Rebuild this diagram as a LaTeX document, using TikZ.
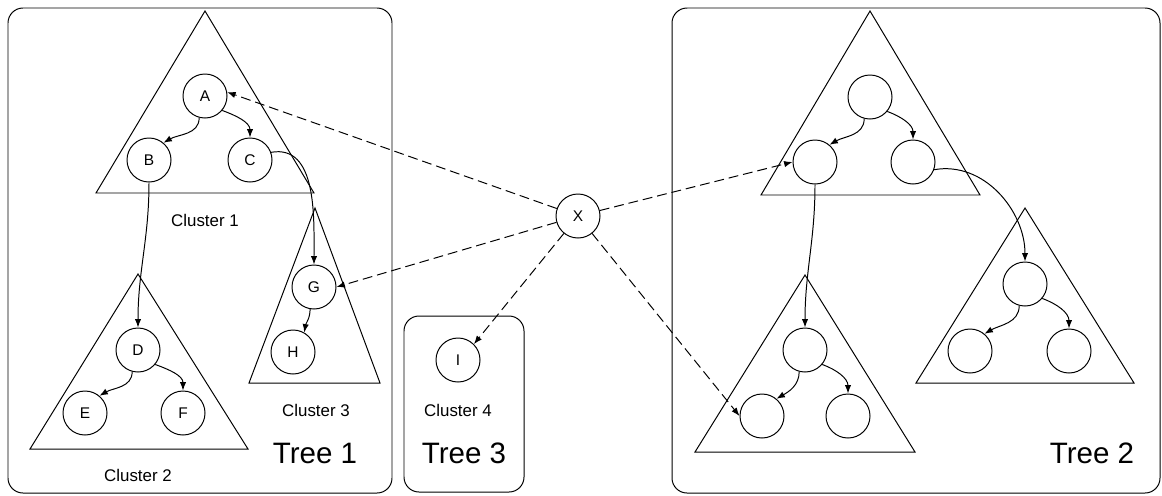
\documentclass[tikz,border=0pt]{standalone}
\usepackage{fontspec}
\setmainfont{Liberation Sans}
\usetikzlibrary{arrows.meta}

\tikzset{
  vert/.style={draw, circle, minimum size=1.1cm, inner sep=0pt, font=\fontsize{11}{13}\selectfont},
  edge/.style={-{Latex[length=6pt,width=4.5pt]}},
  link/.style={edge, dash pattern=on 7pt off 3.5pt},
  lbl/.style={font=\fontsize{12}{14}\selectfont},
  big/.style={font=\fontsize{21}{25}\selectfont}
}

\begin{document}
\begin{tikzpicture}[x=0.025cm,y=-0.025cm,line width=0.7pt]
\useasboundingbox (0,0) rectangle (1162,495);

% tree boxes
\draw[rounded corners=0.375cm] (8,8) rectangle (392,493);
\draw[rounded corners=0.375cm] (404,316) rectangle (524,492);
\draw[rounded corners=0.375cm] (672,8) rectangle (1160,493);

% cluster triangles
\draw (205,11) -- (314,193) -- (96,193) -- cycle;
\draw (315,208) -- (380,383) -- (249,383) -- cycle;
\draw (138,274) -- (248,449) -- (30,449) -- cycle;
\draw (870,11) -- (980,195) -- (761,195) -- cycle;
\draw (805,275) -- (915,452) -- (695,452) -- cycle;
\draw (1025,208) -- (1134,383) -- (916,383) -- cycle;

% tree 1
\node[vert] (A) at (205,96) {A};
\node[vert] (B) at (149,160) {B};
\node[vert] (C) at (250,160) {C};
\node[vert] (D) at (138,350) {D};
\node[vert] (E) at (85,413) {E};
\node[vert] (F) at (183,413) {F};
\node[vert] (G) at (314,287) {G};
\node[vert] (H) at (293,352) {H};

% tree 3
\node[vert] (I) at (458,360) {I};

% tree 2
\node[vert] (P) at (870,97) {};
\node[vert] (Q) at (815,162) {};
\node[vert] (R) at (913,162) {};
\node[vert] (S) at (805,350) {};
\node[vert] (S1) at (762,416) {};
\node[vert] (S2) at (848,416) {};
\node[vert] (T) at (1025,284) {};
\node[vert] (T1) at (970,351) {};
\node[vert] (T2) at (1069,351) {};

\node[vert] (X) at (578,216) {X};

\node[lbl] (c1) at (205,220) {Cluster 1};
\node[lbl] (c2) at (138,475) {Cluster 2};
\node[lbl] (c3) at (316,410) {Cluster 3};
\node[lbl] (c4) at (458,410) {Cluster 4};
\node[big] (t1) at (315,453) {Tree 1};
\node[big] (t3) at (464,453) {Tree 3};
\node[big] (t2) at (1092,453) {Tree 2};

% solid edges
\draw[edge] (A.255) to[out=-90,in=30] (B.50);
\draw[edge] (A.-40) to[out=-20,in=90] (C.north);
\draw[edge] (B.south) to[out=-90,in=90] (D.north);
\draw[edge] (C.20) to[out=10,in=90] (G.north);
\draw[edge] (G.260) to[out=-90,in=80] (H.60);
\draw[edge] (D.255) to[out=-90,in=30] (E.50);
\draw[edge] (D.-40) to[out=-20,in=90] (F.north);
\draw[edge] (P.255) to[out=-90,in=30] (Q.50);
\draw[edge] (P.-40) to[out=-20,in=90] (R.north);
\draw[edge] (Q.south) to[out=-90,in=90] (S.north);
\draw[edge] (R.-20) to[out=10,in=90] (T.north);
\draw[edge] (S.255) to[out=-90,in=30] (S1.50);
\draw[edge] (S.-40) to[out=-20,in=90] (S2.north);
\draw[edge] (T.255) to[out=-90,in=30] (T1.50);
\draw[edge] (T.-40) to[out=-20,in=90] (T2.north);

% dashed links from X
\draw[link] (X) -- (A.10);
\draw[link] (X) -- (G.east);
\draw[link] (X) -- (I.45);
\draw[link] (X) -- (Q.west);
\draw[link] (X) -- (S1.west);
\end{tikzpicture}
\end{document}
